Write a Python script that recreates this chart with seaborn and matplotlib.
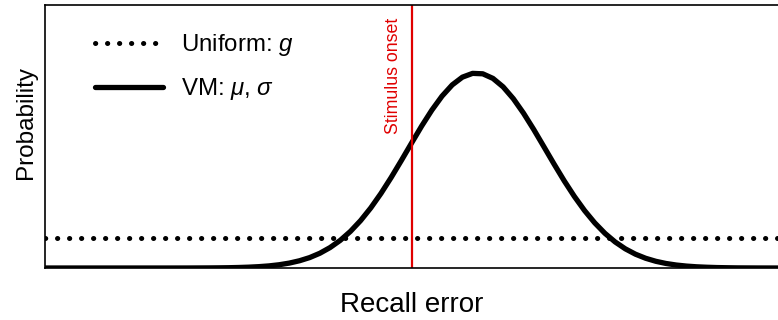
import matplotlib
matplotlib.use("Agg")
import matplotlib.pyplot as plt
import matplotlib.transforms as mtransforms
import seaborn as sns
import pandas as pd

# ---- data ----
recall_error = [-180, -170, -160, -150, -140, -130, -120, -110, -100,
                -95, -90, -85, -80, -75, -70, -65, -60, -55, -50, -45, -40,
                -35, -30, -25, -20, -15, -10, -5, 0, 5, 10, 15, 20, 25, 30,
                35, 40, 45, 50, 55, 60, 65, 70, 75, 80, 85, 90, 95, 100,
                105, 110, 115, 120, 125, 130, 135, 140, 145, 150, 155,
                160, 170, 180]
vm_density = [0.0, 0.0, 0.0, 0.0, 0.0, 0.0, 0.0, 0.0001, 0.0005,
              0.0009, 0.0015, 0.0026, 0.0043, 0.0069, 0.0108, 0.0167, 0.0252,
              0.0372, 0.0535, 0.0757, 0.1048, 0.1418, 0.1877, 0.2432, 0.3083,
              0.3824, 0.4641, 0.5511, 0.6403, 0.7282, 0.8099, 0.8817, 0.9392,
              0.9789, 0.9983, 0.9961, 0.9725, 0.9291, 0.8685, 0.7943, 0.7110,
              0.6225, 0.5334, 0.4471, 0.3669, 0.2945, 0.2314, 0.1778, 0.1337,
              0.0984, 0.0708, 0.0499, 0.0344, 0.0232, 0.0153, 0.0099, 0.0062,
              0.0039, 0.0023, 0.0014, 0.0007, 0.0002, 0.0]
uniform_x = [-180, 180]
uniform_g = [0.154, 0.154]
stimulus_onset = 0
labels = ["Uniform: $g$", "VM: $\\mu$, $\\sigma$"]

sns.set_style("white")
plt.rcParams["font.family"] = ["Liberation Sans", "DejaVu Sans"]
plt.rcParams["mathtext.fontset"] = "custom"
plt.rcParams["mathtext.it"] = "Liberation Sans:italic"
plt.rcParams["mathtext.rm"] = "Liberation Sans"
plt.rcParams["text.color"] = "black"
plt.rcParams["axes.labelcolor"] = "black"

fig = plt.figure(figsize=(7.78, 3.2), dpi=100)
ax = fig.add_axes([45 / 778, 52 / 320, 733 / 778, 263 / 320])

df_u = pd.DataFrame({"x": uniform_x, "y": uniform_g})
df_vm = pd.DataFrame({"x": recall_error, "y": vm_density})

sns.lineplot(data=df_u, x="x", y="y", ax=ax, color="black", lw=3.6,
             label=labels[0])
ax.lines[-1].set_linestyle((0, (0.05, 2.35)))
ax.lines[-1].set_dash_capstyle("round")
sns.lineplot(data=df_vm, x="x", y="y", ax=ax, color="black", lw=3.8,
             label=labels[1])

ax.axvline(stimulus_onset, color="#e00000", lw=1.6)
trans = mtransforms.blended_transform_factory(ax.transData, ax.transAxes)
ax.annotate("Stimulus onset", xy=(stimulus_onset, 1), xycoords=trans,
            xytext=(-7, -9), textcoords="offset points", rotation=90,
            ha="right", va="top", color="#e00000", fontsize=12.8)

ax.set_xlim(-180, 180)
ax.set_ylim(0, 1.349)
ax.set_xticks([])
ax.set_yticks([])
ax.set_xlabel("Recall error", fontsize=20, labelpad=17)
ax.set_ylabel("Probability", fontsize=17.5)
ax.yaxis.set_label_coords(-0.011, 0.552)

for side in ["left", "bottom", "top"]:
    ax.spines[side].set_visible(True)
    ax.spines[side].set_color("black")
    ax.spines[side].set_linewidth(1.2)
ax.spines["right"].set_visible(False)

leg = ax.legend(loc="upper left", bbox_to_anchor=(0.068, 0.896), frameon=False,
                fontsize=17.3, handlelength=2.85, handletextpad=0.72,
                labelspacing=0.75, borderpad=0, borderaxespad=0)

fig.savefig("out.png", dpi=100)
